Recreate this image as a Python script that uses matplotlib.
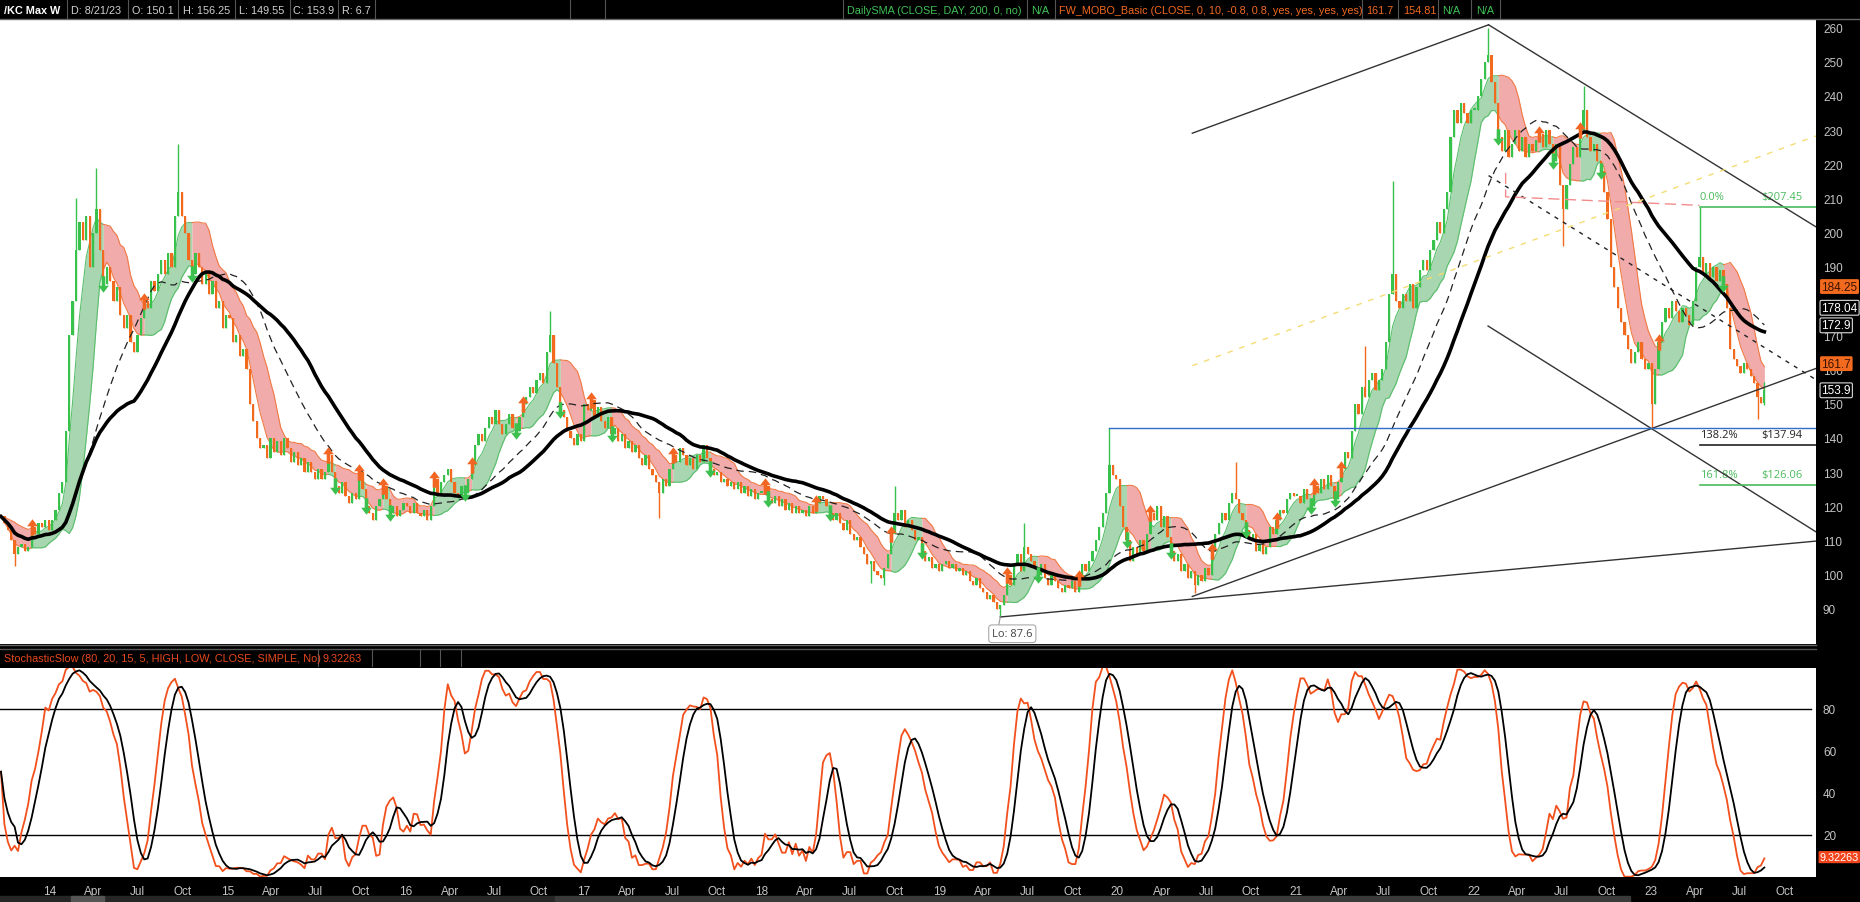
import numpy as np
import pandas as pd
import matplotlib
matplotlib.use('Agg')
import matplotlib.pyplot as plt
import matplotlib.dates as mdates
import matplotlib.transforms as mtransforms
from matplotlib.lines import Line2D
from matplotlib.patches import Rectangle
from matplotlib.path import Path

# weekly closes, one list per calendar year (Monday bars)
close_2013 = [117, 115, 113, 110, 106, 108, 109, 107, 108, 114, 112, 115, 114, 116, 113]
close_2014 = [116, 119, 124, 127, 142, 170, 180, 195, 203, 198, 205, 190, 200, 207, 195,
              185, 190, 186, 180, 184, 176, 172, 176, 168, 165, 170, 175, 180, 178, 186,
              183, 188, 192, 188, 194, 190, 205, 212, 205, 200, 192, 188, 194, 190, 185,
              188, 182, 186, 178, 180, 172, 176]
close_2015 = [175, 168, 170, 164, 166, 160, 150, 145, 140, 137, 138, 134, 140, 136, 139,
              135, 140, 137, 133, 136, 132, 134, 130, 133, 130, 128, 131, 128, 130, 135,
              130, 126, 124, 127, 123, 121, 124, 122, 130, 125, 120, 118, 116, 120, 122,
              126, 122, 118, 120, 117, 119, 121]
close_2016 = [120, 118, 121, 118, 117, 119, 116, 120, 128, 124, 127, 129, 131, 127, 124,
              123, 126, 124, 128, 132, 138, 141, 139, 143, 146, 144, 148, 144, 141, 144,
              147, 143, 142, 146, 150, 152, 155, 153, 157, 159, 156, 165, 170, 162, 155,
              148, 146, 142, 140, 138, 141, 139]
close_2017 = [150, 148, 151, 146, 149, 145, 143, 146, 141, 143, 139, 141, 137, 139, 136,
              138, 134, 132, 135, 131, 129, 127, 124, 128, 126, 131, 135, 133, 137, 135,
              132, 134, 131, 135, 133, 138, 134, 131, 129, 130, 127, 128, 126, 127, 125,
              127, 124, 126, 123, 125, 122, 124]
close_2018 = [124, 126, 122, 121, 123, 120, 122, 119, 121, 118, 120, 118, 119, 117, 120,
              118, 121, 123, 122, 120, 118, 116, 118, 115, 113, 116, 112, 110, 111, 108,
              106, 103, 104, 101, 100, 99, 102, 106, 112, 118, 116, 119, 114, 116, 113,
              110, 111, 107, 104, 105, 102, 103, 101]
close_2019 = [103, 104, 102, 103, 101, 102, 100, 101, 98, 97, 99, 96, 95, 93, 94,
              92, 90, 91, 94, 100, 97, 103, 106, 101, 108, 106, 104, 102, 100, 103,
              99, 97, 100, 98, 96, 95, 97, 96, 98, 95, 99, 103, 101, 104, 107,
              110, 114, 118, 124, 132, 129, 128]
close_2020 = [120, 114, 110, 104, 108, 106, 110, 107, 112, 118, 116, 120, 114, 117, 111,
              107, 104, 106, 101, 103, 99, 101, 97, 100, 98, 102, 100, 107, 112, 115,
              118, 116, 121, 124, 122, 118, 116, 113, 110, 112, 107, 109, 106, 108, 114,
              112, 116, 119, 118, 122, 124, 123]
close_2021 = [123, 121, 125, 122, 120, 126, 124, 128, 125, 129, 126, 122, 127, 131, 136,
              134, 142, 150, 147, 155, 152, 157, 159, 154, 157, 160, 168, 182, 188, 180,
              178, 182, 180, 185, 178, 184, 189, 192, 189, 195, 198, 203, 200, 207, 212,
              228, 236, 232, 238, 235, 232, 236]
close_2022 = [236, 240, 245, 250, 252, 244, 238, 228, 224, 230, 222, 226, 230, 224, 228,
              222, 226, 224, 227, 229, 225, 230, 226, 221, 226, 214, 207, 214, 220, 225,
              222, 230, 236, 228, 224, 226, 221, 218, 212, 204, 190, 184, 178, 174, 170,
              166, 162, 165, 168, 163, 160, 162]
close_2023 = [150, 160, 168, 174, 178, 175, 180, 177, 174, 178, 176, 173, 180, 190, 193,
              188, 191, 187, 190, 186, 189, 185, 178, 166, 163, 161, 159, 162, 160, 158,
              156, 152, 150.1, 153.9]
last_bar = {'high': 156.25, 'low': 149.55}

# wick extremes that stick out beyond the bodies
wick_highs = {'2014-02-24': 210, '2014-04-07': 219, '2014-09-22': 226, '2016-10-24': 177,
              '2018-10-01': 126, '2019-06-24': 115, '2019-12-16': 143, '2020-08-31': 133,
              '2021-05-24': 167, '2021-07-19': 215, '2022-01-31': 260, '2022-08-15': 243,
              '2023-04-10': 207.45}
wick_lows = {'2013-10-21': 102.6, '2017-06-05': 116.5, '2018-08-13': 97.5, '2018-09-10': 97,
             '2019-05-06': 87.6, '2020-06-08': 94.5, '2022-07-04': 196, '2023-01-02': 142.8,
             '2023-08-07': 145.5}

# drawings on the price pane: (date, price) end points
trend_lines = [(('2020-06-03', 229.1), ('2022-02-01', 260.8)),
               (('2022-02-01', 260.8), ('2023-12-05', 201.7)),
               (('2022-01-31', 172.7), ('2023-12-05', 112.5)),
               (('2019-05-06', 87.6), ('2023-12-05', 109.8)),
               (('2020-06-03', 93.6), ('2023-12-05', 160.3))]
dotted_line = (('2022-02-01', 216.7), ('2023-12-05', 157.0))
yellow_line = (('2020-06-03', 161.1), ('2023-12-05', 228.3))
blue_line = ('2019-12-16', 142.9)
pink_line = [('2022-03-08', 217.5), ('2022-03-08', 210.5), ('2023-04-10', 208.0)]
fib_start = '2023-04-10'
fib_levels = [('0.0%', 207.45, '#4cbb5e'), ('138.2%', 137.94, '#222222'), ('161.8%', 126.06, '#4cbb5e')]
price_ticks = [90, 100, 110, 120, 130, 140, 150, 160, 170, 190, 200, 210, 220, 230, 240, 250, 260]
right_labels = [('184.25', 184.25, 'fill'), ('178.04', 178.04, 'box'), ('172.9', 172.9, 'box'),
                ('161.7', 161.7, 'fill'), ('153.9', 153.9, 'box')]
stoch_last = '9.32263'

header_cells = [(4, '/KC Max W', 'white', 'bold'), (71, 'D: 8/21/23', '#d0d0d0', 'normal'),
                (132, 'O: 150.1', '#d0d0d0', 'normal'), (183, 'H: 156.25', '#d0d0d0', 'normal'),
                (239, 'L: 149.55', '#d0d0d0', 'normal'), (293, 'C: 153.9', '#d0d0d0', 'normal'),
                (342, 'R: 6.7', '#d0d0d0', 'normal'),
                (847, 'DailySMA (CLOSE, DAY, 200, 0, no)', '#3fbf55', 'normal'),
                (1031, 'N/A', '#3fbf55', 'normal'),
                (1059, 'FW_MOBO_Basic (CLOSE, 0, 10, -0.8, 0.8, yes, yes, yes, yes)', '#f26a21', 'normal'),
                (1366, '161.7', '#f26a21', 'normal'), (1403, '154.81', '#f26a21', 'normal'),
                (1442, 'N/A', '#3fbf55', 'normal'), (1476, 'N/A', '#3fbf55', 'normal')]
header_dividers = [67, 128, 178, 235, 290, 338, 375, 570, 605, 843, 1027, 1055, 1362, 1398, 1438, 1471, 1500]

GREEN, ORANGE = '#39c24b', '#f26a1e'
plt.rcParams['font.family'] = ['Liberation Sans', 'DejaVu Sans']

close = np.array(close_2013 + close_2014 + close_2015 + close_2016 + close_2017 + close_2018
                 + close_2019 + close_2020 + close_2021 + close_2022 + close_2023, dtype=float)
n = len(close)
dates = pd.date_range(end='2023-08-21', periods=n, freq='W-MON')
opn = np.r_[close[0], close[:-1]]
high = np.maximum(opn, close)
low = np.minimum(opn, close)
for d, v in wick_highs.items():
    high[dates.get_indexer([pd.Timestamp(d)], method='nearest')[0]] = v
for d, v in wick_lows.items():
    low[dates.get_indexer([pd.Timestamp(d)], method='nearest')[0]] = v
high[-1], low[-1] = last_bar['high'], last_bar['low']

cs = pd.Series(close)
sma_slow = cs.rolling(40, min_periods=1).mean().values
sma_mid = cs.rolling(26, min_periods=1).mean().values
mid = cs.rolling(10, min_periods=2).mean()
sd = cs.rolling(10, min_periods=2).std(ddof=0)
upper = (mid + 0.8 * sd).values
lower = (mid - 0.8 * sd).values

state = np.zeros(n, int)
s = -1
for i in range(n):
    if np.isfinite(upper[i]) and close[i] > upper[i]:
        s = 1
    elif np.isfinite(lower[i]) and close[i] < lower[i]:
        s = -1
    state[i] = s

hh = pd.Series(high).rolling(15, min_periods=1).max()
ll = pd.Series(low).rolling(15, min_periods=1).min()
rng = (hh - ll).replace(0, np.nan)
fastk = (100 * (cs - ll) / rng).fillna(50)
slowk = fastk.rolling(5, min_periods=1).mean()
slowd = slowk.rolling(5, min_periods=1).mean()

x = mdates.date2num(dates)
W, H = 1860, 903
fig = plt.figure(figsize=(W / 100, H / 100), dpi=100, facecolor='black')


def box(x0, y0, x1, y1):
    return [x0 / W, 1 - y1 / H, (x1 - x0) / W, (y1 - y0) / H]


ax = fig.add_axes(box(0, 20, 1816, 645))
ax2 = fig.add_axes(box(0, 669, 1816, 878))
xmin, xmax = mdates.datestr2num('2013-09-21'), mdates.datestr2num('2023-12-05')
for a in (ax, ax2):
    a.set_facecolor('white')
    a.set_xlim(xmin, xmax)
    for sp in a.spines.values():
        sp.set_visible(False)
    a.yaxis.tick_right()
    a.tick_params(axis='y', length=0, pad=5, labelcolor='#c4c4c4', labelsize=8.5)

# price pane
ax.set_ylim(79.7, 262.5)
ax.set_yticks(price_ticks)
ax.set_xticks([])

bounds = [0, *(np.flatnonzero(np.diff(state)) + 1), n]
for a0, b0 in zip(bounds[:-1], bounds[1:]):
    seg = slice(a0, min(b0 + 1, n))
    if state[a0] == 1:
        fc, ec = '#a7d6b0', '#5cbf6e'
    else:
        fc, ec = '#f2abab', '#f07a45'
    ax.fill_between(x[seg], lower[seg], upper[seg], color=fc, lw=0, zorder=1)
    ax.plot(x[seg], upper[seg], color=ec, lw=0.8, zorder=2)
    ax.plot(x[seg], lower[seg], color=ec, lw=0.8, zorder=2)

col = np.where(close >= opn, GREEN, ORANGE)
ax.vlines(x, low, high, colors=col, lw=1.0, zorder=3)
ax.bar(x, np.maximum(np.abs(close - opn), 0.5), bottom=np.minimum(opn, close), width=4.6,
       color=col, lw=0, zorder=3)

ax.plot(x, sma_mid, color='#222222', lw=0.9, dashes=(6, 4), zorder=4)
ax.plot(x, sma_slow, color='black', lw=2.6, zorder=4)

up_arrow = Path([(0, 1), (-0.65, 0.15), (-0.22, 0.15), (-0.22, -1), (0.22, -1),
                 (0.22, 0.15), (0.65, 0.15), (0, 1)])
down_arrow = Path([(px, -py) for px, py in up_arrow.vertices])
flip = np.flatnonzero(np.diff(state)) + 1
ups = flip[state[flip] == 1]
downs = flip[state[flip] == -1]
ax.scatter(x[ups], close[ups], marker=up_arrow, s=140, color='#f26522', lw=0, zorder=6)
ax.scatter(x[downs], close[downs], marker=down_arrow, s=140, color='#3cc04e', lw=0, zorder=6)


def dn(d):
    return mdates.datestr2num(d)


for (d0, p0), (d1, p1) in trend_lines:
    ax.plot([dn(d0), dn(d1)], [p0, p1], color='#333333', lw=1.0, zorder=5)
(d0, p0), (d1, p1) = dotted_line
ax.plot([dn(d0), dn(d1)], [p0, p1], color='#222222', lw=1.0, dashes=(3, 4), zorder=5)
(d0, p0), (d1, p1) = yellow_line
ax.plot([dn(d0), dn(d1)], [p0, p1], color='#f5dc72', lw=1.0, dashes=(4, 5), zorder=5)
ax.plot([dn(blue_line[0]), xmax], [blue_line[1]] * 2, color='#2f6fc8', lw=1.0, zorder=5)
ax.plot([dn(d) for d, _ in pink_line], [p for _, p in pink_line], color='#f28c8c', lw=1.0,
        dashes=(8, 4), zorder=5)
for name, lvl, c in fib_levels:
    ax.plot([dn(fib_start), xmax], [lvl, lvl], color=c, lw=1.2, zorder=5)
    ax.text(dn(fib_start), lvl + 1.5, name, color=c, fontsize=8, family='Open Sans', va='bottom')
    ax.text(dn('2023-08-14'), lvl + 1.5, f'${lvl:.2f}', color=c, fontsize=8, family='Open Sans',
            va='bottom')

lo_x = dn('2019-05-06')
ax.plot([lo_x, lo_x - 4], [87.6, 84.8], color='#999999', lw=0.8, zorder=5)
ax.text(lo_x - 17, 82.7, 'Lo: 87.6', fontsize=8, family='Open Sans', color='#444444', va='center',
        bbox=dict(boxstyle='round,pad=0.3', fc='white', ec='#aaaaaa', lw=0.8), zorder=7)

tr = mtransforms.blended_transform_factory(ax.transAxes, ax.transData)
for txt, val, kind in right_labels:
    if kind == 'fill':
        bb = dict(boxstyle='round,pad=0.12', fc='#f26a1e', ec='none')
        tc = '#3a1200'
    else:
        bb = dict(boxstyle='round,pad=0.12', fc='black', ec='#dddddd', lw=0.8)
        tc = 'white'
    ax.text(1.003, val, txt, transform=tr, fontsize=8.5, color=tc, va='center', ha='left',
            bbox=bb, clip_on=False, zorder=8)

# stochastic pane
ax2.set_ylim(-0.15, 99.4)
ax2.set_yticks([20, 40, 60, 80])
ax2.axhline(80, color='black', lw=1.0, xmax=0.997)
ax2.axhline(20, color='black', lw=1.0, xmax=0.997)
ax2.plot(x, slowk, color='#f2501d', lw=1.3, zorder=3)
ax2.plot(x, slowd, color='black', lw=1.3, zorder=4)
tr2 = mtransforms.blended_transform_factory(ax2.transAxes, ax2.transData)
ax2.text(1.002, float(stoch_last), stoch_last, transform=tr2, fontsize=7.8, color='white',
         va='center', ha='left', bbox=dict(boxstyle='round,pad=0.1', fc='#f2451c', ec='none'),
         clip_on=False, zorder=8)

ticks, labels = [], []
for yr in range(2014, 2024):
    for mo, lab in ((1, f'{yr % 100:02d}'), (4, 'Apr'), (7, 'Jul'), (10, 'Oct')):
        ticks.append(mdates.date2num(pd.Timestamp(yr, mo, 1)))
        labels.append(lab)
ax2.set_xticks(ticks)
ax2.set_xticklabels(labels)
ax2.tick_params(axis='x', length=0, pad=6, labelcolor='#c4c4c4', labelsize=8.5)

# header and separators
for xh, txt, c, wt in header_cells:
    fig.text(xh / W, 1 - 10.5 / H, txt, color=c, fontsize=7.8, fontweight=wt, va='center', ha='left')
for xd in header_dividers:
    fig.add_artist(Line2D([xd / W] * 2, [1 - 1 / H, 1 - 19 / H], color='#555555', lw=0.8))
fig.add_artist(Line2D([0, 1], [1 - 20 / H] * 2, color='#666666', lw=1))
fig.add_artist(Line2D([0, 1816 / W], [1 - 646 / H] * 2, color='#666666', lw=1))
fig.add_artist(Line2D([0, 1816 / W], [1 - 649.5 / H] * 2, color='#555555', lw=1))
fig.text(4 / W, 1 - 659 / H, 'StochasticSlow (80, 20, 15, 5, HIGH, LOW, CLOSE, SIMPLE, No)',
         color='#e8481e', fontsize=7.8, va='center', ha='left')
fig.text(322 / W, 1 - 659 / H, stoch_last, color='#e8481e', fontsize=7.8, va='center', ha='left')
for xd in (318, 372, 420, 440, 461):
    fig.add_artist(Line2D([xd / W] * 2, [1 - 651 / H, 1 - 667 / H], color='#555555', lw=0.8))
fig.add_artist(Rectangle((0, 0), 555 / W, 6 / H, transform=fig.transFigure, color='#262626'))
fig.add_artist(Rectangle((555 / W, 0), 1075 / W, 6 / H, transform=fig.transFigure, color='#3a3a3a'))
fig.add_artist(Rectangle((71 / W, 0), 33 / W, 6 / H, transform=fig.transFigure, color='#555555'))

fig.savefig('out.png', dpi=100, facecolor='black')
